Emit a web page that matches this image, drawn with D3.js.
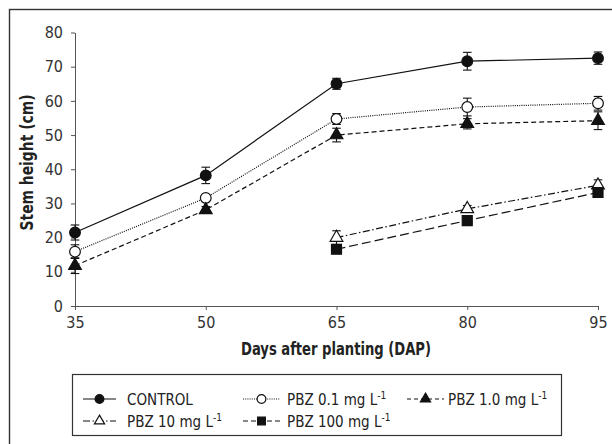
<!doctype html>
<html>
<head>
<style>
  body { margin: 0; background: #fff; }
  text { font-family: "DejaVu Sans", sans-serif; font-stretch: condensed; fill: #222; }
  .axis path, .axis line { stroke: #555; }
  .axis text { font-size: 16px; fill: #333; font-family: "DejaVu Sans", sans-serif; font-stretch: condensed; }
</style>
<script src="https://d3js.org/d3.v7.min.js"></script>
</head>
<body>
<svg width="612" height="444"></svg>
<script>
// data
var days = [35, 50, 65, 80, 95];
var lateDays = [65, 80, 95];
var yTicks = [0, 10, 20, 30, 40, 50, 60, 70, 80];

var control = [21.5, 38.2, 65.0, 71.6, 72.5];
var controlErr = [2.2, 2.4, 1.6, 2.6, 1.8];
var pbz01 = [15.9, 31.6, 54.7, 58.2, 59.3];
var pbz01Err = [2.0, 1.0, 1.6, 2.6, 2.0];
var pbz1 = [11.8, 28.1, 50.0, 53.3, 54.2];
var pbz1Err = [2.3, 1.0, 2.0, 1.5, 2.6];
var pbz10 = [20.0, 28.4, 35.3];
var pbz10Err = [2.0, 1.0, 1.6];
var pbz100 = [16.6, 25.0, 33.2];
var pbz100Err = [1.0, 1.0, 1.0];

var names = ["CONTROL", "PBZ 0.1 mg L", "PBZ 1.0 mg L", "PBZ 10 mg L", "PBZ 100 mg L"];

var series = [
  {name: names[0], x: days, y: control, e: controlErr, dash: null, shape: "circle", filled: true},
  {name: names[1], x: days, y: pbz01, e: pbz01Err, dash: "1,1.2", shape: "circle", filled: false},
  {name: names[2], x: days, y: pbz1, e: pbz1Err, dash: "5,3", shape: "triangle", filled: true},
  {name: names[3], x: lateDays, y: pbz10, e: pbz10Err, dash: "7,2.5,1.5,2.5", shape: "triangle", filled: false},
  {name: names[4], x: lateDays, y: pbz100, e: pbz100Err, dash: "9,4", shape: "square", filled: true}
];

var svg = d3.select("svg");

// outer frame
svg.append("rect")
  .attr("x", 9.5).attr("y", 9.5)
  .attr("width", 620).attr("height", 450)
  .attr("fill", "none").attr("stroke", "#333").attr("stroke-width", 1.4);

var x = d3.scaleLinear().domain([35, 95]).range([75, 598]);
var y = d3.scaleLinear().domain([0, 80]).range([306, 32.5]);

svg.append("g")
  .attr("class", "axis")
  .attr("transform", "translate(75,0)")
  .call(d3.axisLeft(y).tickValues(yTicks).tickSize(4).tickSizeOuter(0).tickPadding(8));

svg.append("g")
  .attr("class", "axis")
  .attr("transform", "translate(0,306)")
  .call(d3.axisBottom(x).tickValues(days).tickSize(4).tickSizeOuter(0).tickPadding(7));

svg.append("text")
  .attr("transform", "translate(32.5,162.5) rotate(-90)")
  .attr("text-anchor", "middle")
  .attr("textLength", 136).attr("lengthAdjust", "spacingAndGlyphs")
  .style("font-weight", "bold").style("font-size", "18px")
  .text("Stem height (cm)");

svg.append("text")
  .attr("x", 336).attr("y", 355)
  .attr("text-anchor", "middle")
  .attr("textLength", 190).attr("lengthAdjust", "spacingAndGlyphs")
  .style("font-weight", "bold").style("font-size", "18px")
  .text("Days after planting (DAP)");

function marker(g, shape, filled, size) {
  var sym = shape == "circle" ? d3.symbolCircle : shape == "square" ? d3.symbolSquare : d3.symbolTriangle;
  g.append("path")
    .attr("d", d3.symbol().type(sym).size(size))
    .attr("fill", filled ? "#111" : "#fff")
    .attr("stroke", "#111")
    .attr("stroke-width", 1.2);
}

var line = d3.line();

series.forEach(function(s) {
  var pts = s.x.map(function(d, i) { return [x(d), y(s.y[i])]; });
  svg.append("path")
    .attr("d", line(pts))
    .attr("fill", "none")
    .attr("stroke", "#111")
    .attr("stroke-width", 1.2)
    .attr("stroke-dasharray", s.dash);

  // error bars
  s.x.forEach(function(d, i) {
    var cx = x(d), y0 = y(s.y[i] - s.e[i]), y1 = y(s.y[i] + s.e[i]);
    var eb = svg.append("g").attr("stroke", "#111").attr("stroke-width", 1.1);
    eb.append("line").attr("x1", cx).attr("x2", cx).attr("y1", y0).attr("y2", y1);
    eb.append("line").attr("x1", cx - 4.3).attr("x2", cx + 4.3).attr("y1", y0).attr("y2", y0);
    eb.append("line").attr("x1", cx - 4.3).attr("x2", cx + 4.3).attr("y1", y1).attr("y2", y1);
  });

  s.x.forEach(function(d, i) {
    var g = svg.append("g").attr("transform", "translate(" + x(d) + "," + y(s.y[i]) + ")");
    var sz = s.shape == "circle" ? 90 : s.shape == "square" ? 100 : 70;
    marker(g, s.shape, s.filled, sz);
  });
});

// legend
svg.append("rect")
  .attr("x", 72.5).attr("y", 374.5)
  .attr("width", 489).attr("height", 61)
  .attr("fill", "none").attr("stroke", "#333").attr("stroke-width", 1.2);

var legendPos = [
  {lx: 83, tx: 127, ty: 405},
  {lx: 243, tx: 287, ty: 405},
  {lx: 407, tx: 448, ty: 405},
  {lx: 83, tx: 127, ty: 427},
  {lx: 243, tx: 287, ty: 427}
];
var legendDash = [null, "1,1.2", "4,3", "7,2.5,1.5,2.5", "5,3"];

series.forEach(function(s, i) {
  var p = legendPos[i];
  var cy = p.ty - 6;
  var w = i == 0 || i == 3 ? 33 : 37;
  svg.append("line")
    .attr("x1", p.lx).attr("x2", p.lx + w)
    .attr("y1", cy).attr("y2", cy)
    .attr("stroke", "#111").attr("stroke-width", 1.1)
    .attr("stroke-dasharray", legendDash[i]);
  var g = svg.append("g").attr("transform", "translate(" + (p.lx + w / 2) + "," + cy + ")");
  var sz = s.shape == "circle" ? 60 : s.shape == "square" ? 60 : 45;
  marker(g, s.shape, s.filled, sz);
  var t = svg.append("text")
    .attr("x", p.tx).attr("y", p.ty)
    .style("font-size", "15px")
    .text(s.name);
  if (i > 0) {
    t.append("tspan").attr("dy", -6).style("font-size", "10px").text("-1");
  }
});
</script>
</body>
</html>
